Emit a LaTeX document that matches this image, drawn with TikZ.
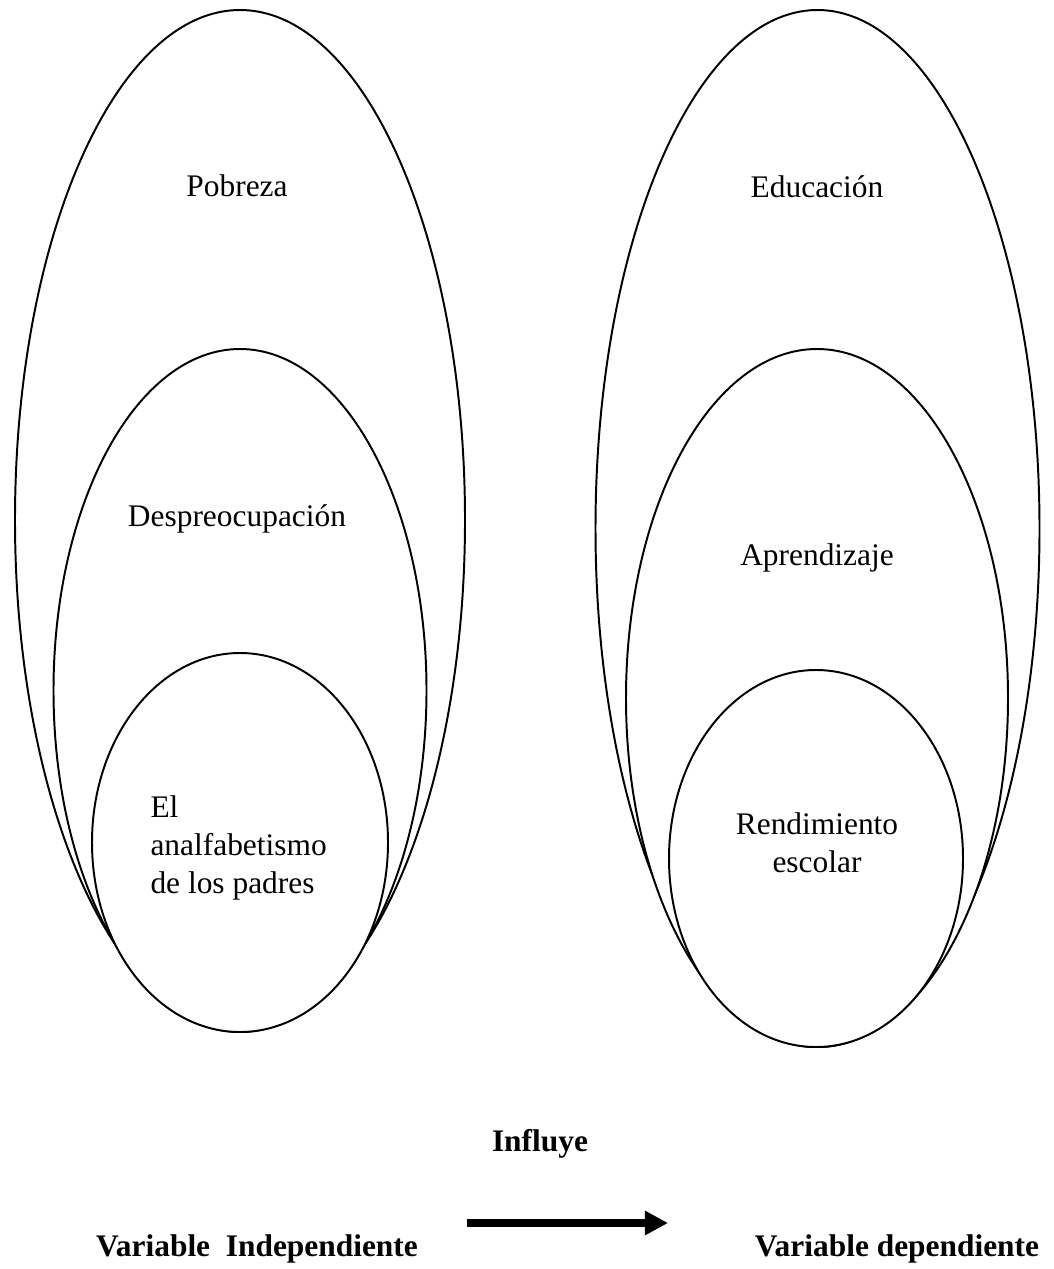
\documentclass[tikz,border=0pt]{standalone}
\usepackage{fontspec}
\setmainfont{Liberation Serif}
\usepackage{tikz}
\usetikzlibrary{shapes.geometric,arrows.meta}
\newcommand\pxl{0.382pt}
\tikzstyle{o}=[ellipse,draw=black,fill=white,line width=0.75pt,inner sep=0pt,outer sep=0pt]
\tikzstyle{t}=[inner sep=0pt,font=\fontsize{12}{14.5}\selectfont]
\tikzstyle{tb}=[t,font=\fontsize{12}{14.5}\selectfont\bfseries]
\tikzstyle{big arrow}=[line width=2.8pt,-{Triangle[length=8.8pt,width=8.8pt]}]

\begin{document}
\begin{tikzpicture}[x=\pxl,y=-\pxl]
  \useasboundingbox (0,0) rectangle (1053,1269);

  % independent variable
  \node[o,minimum width=450*\pxl,minimum height=1020*\pxl] (pobreza) at (240,520) {};
  \node[o,minimum width=373*\pxl,minimum height=683*\pxl] (despreocupacion) at (240,690.5) {};
  \node[o,minimum width=296*\pxl,minimum height=379*\pxl] (analfabetismo) at (240,842.5) {};

  % dependent variable
  \node[o,minimum width=444*\pxl,minimum height=1037*\pxl] (educacion) at (817.5,528.5) {};
  \node[o,minimum width=382*\pxl,minimum height=698*\pxl] (aprendizaje) at (817,698) {};
  \node[o,minimum width=294*\pxl,minimum height=377*\pxl] (rendimiento) at (816,858.5) {};

  \node[t,anchor=base] (pobreza_txt) at (237,197) {Pobreza};
  \node[t,anchor=base] (despreocupacion_txt) at (237,526) {Despreocupación};
  \node[t,anchor=base west,align=left] (analfabetismo_txt) at (150,893)
    {El\\analfabetismo\\de los padres};

  \node[t,anchor=base] (educacion_txt) at (817,198) {Educación};
  \node[t,anchor=base] (aprendizaje_txt) at (817,565) {Aprendizaje};
  \node[t,anchor=base,align=center] (rendimiento_txt) at (817,872)
    {Rendimiento\\escolar};

  % legend
  \node[tb,anchor=base] (influye) at (540,1151) {Influye};
  \node[tb,anchor=base] (indep) at (257,1256) {Variable\ \ Independiente};
  \node[tb,anchor=base] (dep) at (897,1256) {Variable dependiente};

  \coordinate (arr_a) at (467,1223);
  \coordinate (arr_b) at (668,1223);
  \draw[big arrow] (arr_a) -- (arr_b);
\end{tikzpicture}
\end{document}
